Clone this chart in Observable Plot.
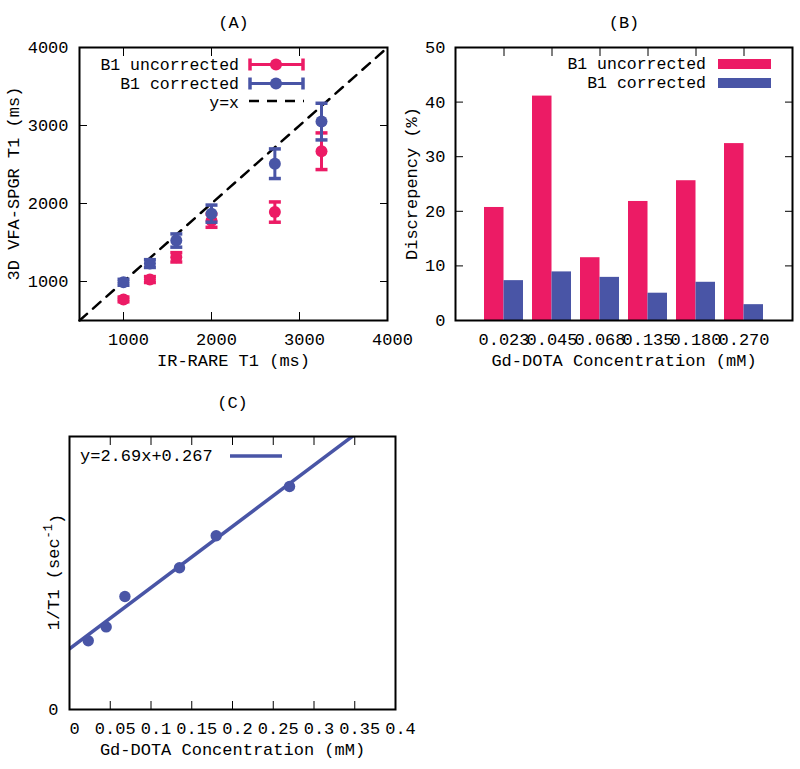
<!DOCTYPE html>
<html><head><meta charset="utf-8">
<script src="https://cdn.jsdelivr.net/npm/d3@7"></script>
<script src="https://cdn.jsdelivr.net/npm/@observablehq/plot@0.6"></script>
<style>
body{margin:0;background:#fff;}
#wrap{position:relative;width:800px;height:769px;overflow:hidden;background:#fff;}
#wrap svg{position:absolute;}
</style></head><body><div id="wrap"></div>
<script>
// ---------- data ----------
// Panel A
const irRareT1 = [1000, 1300, 1600, 2000, 2720, 3250];
const uncorrectedT1 = [770, 1025, 1310, 1780, 1890, 2670];
const uncorrectedErr = [30, 38, 60, 85, 130, 235];
const correctedT1 = [990, 1230, 1525, 1870, 2510, 3050];
const correctedErr = [38, 50, 85, 110, 190, 235];
const axisRangeA = [500, 4000];
const ticksA = [1000, 2000, 3000, 4000];
// Panel B
const concLabels = ["0.023", "0.045", "0.068", "0.135", "0.180", "0.270"];
const discUncorrected = [20.7, 41.1, 11.5, 21.8, 25.6, 32.4];
const discCorrected = [7.3, 8.9, 7.9, 5.0, 7.0, 2.9];
const ticksB = [0, 10, 20, 30, 40, 50];
// Panel C
const concentration = [0.023, 0.045, 0.068, 0.135, 0.180, 0.270];
const invT1 = [0.302, 0.363, 0.497, 0.623, 0.764, 0.980];
const fitSlope = 2.69, fitIntercept = 0.267;
const ticksC = [0, 0.05, 0.1, 0.15, 0.2, 0.25, 0.3, 0.35, 0.4];
const innerTicksC = [0.05, 0.1, 0.15, 0.2, 0.25, 0.3, 0.35];

const PINK = "#EC1B65", BLUE = "#4955A6";
const FONT = "'Liberation Mono', 'Courier New', monospace";
const STYLE = {fontFamily: FONT, fontSize: "17px", background: "none", overflow: "visible", color: "black"};
const LEGEND_FS = 16.5;
const wrap = document.getElementById("wrap");

const cap = {draw(ctx, size) { const r = Math.sqrt(size / Math.PI); ctx.moveTo(-r, 0); ctx.lineTo(r, 0); }};

function errMarks(rows, color) {
  return [
    Plot.ruleX(rows, {x: "x", y1: "lo", y2: "hi", stroke: color, strokeWidth: 3}),
    Plot.dot(rows, {x: "x", y: "lo", symbol: cap, r: 6, stroke: color, strokeWidth: 3.5, fill: "none"}),
    Plot.dot(rows, {x: "x", y: "hi", symbol: cap, r: 6, stroke: color, strokeWidth: 3.5, fill: "none"}),
    Plot.dot(rows, {x: "x", y: "y", r: 6, fill: color})
  ];
}

function rotatedLabel(svg, text, cx, cy) {
  d3.select(svg).append("text")
    .attr("font-family", FONT).attr("font-size", 17)
    .attr("text-anchor", "middle").attr("dy", "0.32em")
    .attr("transform", `translate(${cx},${cy}) rotate(-90)`)
    .text(text);
}

// ---------- Panel A ----------
const rowsUnc = irRareT1.map((x, i) => ({x, y: uncorrectedT1[i], lo: uncorrectedT1[i] - uncorrectedErr[i], hi: uncorrectedT1[i] + uncorrectedErr[i]}));
const rowsCor = irRareT1.map((x, i) => ({x, y: correctedT1[i], lo: correctedT1[i] - correctedErr[i], hi: correctedT1[i] + correctedErr[i]}));
const diag = axisRangeA.map(v => ({v}));

const svgA = Plot.plot({
  width: 400, height: 380, marginLeft: 79, marginRight: 13, marginTop: 47, marginBottom: 60,
  style: STYLE,
  x: {domain: axisRangeA, label: null, axis: null},
  y: {domain: axisRangeA, label: null, axis: null},
  marks: [
    Plot.line(diag, {x: "v", y: "v", stroke: "black", strokeWidth: 2.5, strokeDasharray: "10,8"}),
    ...errMarks(rowsUnc, PINK),
    ...errMarks(rowsCor, BLUE),
    Plot.axisX({anchor: "bottom", ticks: ticksA, tickSize: -8, fill: "none", label: null}),
    Plot.axisX({anchor: "top", ticks: ticksA, tickSize: -8, fill: "none", label: null}),
    Plot.axisY({anchor: "left", ticks: ticksA, tickSize: -8, fill: "none", label: null}),
    Plot.axisY({anchor: "right", ticks: ticksA, tickSize: -8, fill: "none", label: null}),
    Plot.axisX({anchor: "bottom", ticks: ticksA, tickSize: 0, tickPadding: 12, dx: 5, tickFormat: d => String(d), label: null}),
    Plot.axisY({anchor: "left", ticks: ticksA, tickSize: 0, tickPadding: 11, tickFormat: d => String(d), label: null}),
    Plot.frame({stroke: "black", strokeWidth: 2}),
    Plot.text(["(A)"], {frameAnchor: "top", dy: -32, text: d => d}),
    Plot.text(["IR-RARE T1 (ms)"], {frameAnchor: "bottom", dy: 45, text: d => d})
  ]
});
svgA.style.left = "0px"; svgA.style.top = "0px"; svgA.style.zIndex = 2;
rotatedLabel(svgA, "3D VFA-SPGR T1 (ms)", 14, 183.5);

(function legendA() {
  const g = d3.select(svgA).append("g").attr("font-family", FONT).attr("font-size", LEGEND_FS);
  const items = [{label: "B1 uncorrected", color: PINK, y: 64.5}, {label: "B1 corrected", color: BLUE, y: 83.5}];
  for (const it of items) {
    g.append("text").attr("x", 239).attr("y", it.y).attr("dy", "0.32em").attr("text-anchor", "end").text(it.label);
    g.append("line").attr("x1", 250).attr("x2", 303).attr("y1", it.y).attr("y2", it.y).attr("stroke", it.color).attr("stroke-width", 3);
    for (const cx of [250, 303]) g.append("line").attr("x1", cx).attr("x2", cx).attr("y1", it.y - 6).attr("y2", it.y + 6).attr("stroke", it.color).attr("stroke-width", 3.5);
    g.append("circle").attr("cx", 276).attr("cy", it.y).attr("r", 6).attr("fill", it.color);
  }
  g.append("text").attr("x", 239).attr("y", 102.5).attr("dy", "0.32em").attr("text-anchor", "end").text("y=x");
  g.append("line").attr("x1", 249).attr("x2", 304).attr("y1", 101).attr("y2", 101).attr("stroke", "black").attr("stroke-width", 2.5).attr("stroke-dasharray", "10,8");
})();
wrap.appendChild(svgA);

// ---------- Panel B ----------
const rowsB = concLabels.map((c, i) => ({c, unc: discUncorrected[i], cor: discCorrected[i]}));
const pIn = 0.19, pOut = 0.595, wB = 400, mlB = 55, mrB = 8;
const halfBand = (wB - mlB - mrB) / (concLabels.length - pIn + 2 * pOut) * (1 - pIn) / 2;

const svgB = Plot.plot({
  width: wB, height: 380, marginLeft: mlB, marginRight: mrB, marginTop: 47, marginBottom: 60,
  style: STYLE,
  x: {type: "band", domain: concLabels, paddingInner: pIn, paddingOuter: pOut, label: null, axis: null},
  y: {domain: [0, 50], label: null, axis: null},
  marks: [
    Plot.barY(rowsB, {x: "c", y: "unc", fill: PINK, insetRight: halfBand}),
    Plot.barY(rowsB, {x: "c", y: "cor", fill: BLUE, insetLeft: halfBand}),
    Plot.axisX({anchor: "top", tickSize: -8, fill: "none", label: null}),
    Plot.axisX({anchor: "bottom", tickSize: 0, tickPadding: 12, label: null}),
    Plot.axisY({anchor: "left", ticks: ticksB, tickSize: -8, fill: "none", label: null}),
    Plot.axisY({anchor: "right", ticks: ticksB, tickSize: -8, fill: "none", label: null}),
    Plot.axisY({anchor: "left", ticks: ticksB, tickSize: 0, tickPadding: 10, tickFormat: d => String(d), label: null}),
    Plot.frame({stroke: "black", strokeWidth: 2}),
    Plot.text(["(B)"], {frameAnchor: "top", dy: -32, text: d => d}),
    Plot.text(["Gd-DOTA Concentration (mM)"], {frameAnchor: "bottom", dy: 45, text: d => d})
  ]
});
svgB.style.left = "400px"; svgB.style.top = "0px"; svgB.style.zIndex = 1;
rotatedLabel(svgB, "Discrepency (%)", 12, 183.5);

(function legendB() {
  const g = d3.select(svgB).append("g").attr("font-family", FONT).attr("font-size", LEGEND_FS);
  const items = [{label: "B1 uncorrected", color: PINK, y: 64}, {label: "B1 corrected", color: BLUE, y: 83}];
  for (const it of items) {
    g.append("text").attr("x", 306).attr("y", it.y).attr("dy", "0.32em").attr("text-anchor", "end").text(it.label);
    g.append("rect").attr("x", 318).attr("y", it.y - 5).attr("width", 53).attr("height", 10).attr("fill", it.color);
  }
})();
wrap.appendChild(svgB);

// ---------- Panel C ----------
const rowsC = concentration.map((x, i) => ({x, y: invT1[i]}));
const fitLine = [ticksC[0], ticksC[ticksC.length - 1]].map(x => ({x, y: fitSlope * x + fitIntercept}));

const svgC = Plot.plot({
  width: 440, height: 389, marginLeft: 69, marginRight: 45, marginTop: 56, marginBottom: 60,
  style: STYLE,
  x: {domain: [0, 0.4], label: null, axis: null},
  y: {domain: [0, 1.2], label: null, axis: null},
  marks: [
    Plot.line(fitLine, {x: "x", y: "y", stroke: BLUE, strokeWidth: 3.5, clip: true}),
    Plot.dot(rowsC, {x: "x", y: "y", r: 5.7, fill: BLUE}),
    Plot.axisX({anchor: "bottom", ticks: innerTicksC, tickSize: -8, fill: "none", label: null}),
    Plot.axisX({anchor: "top", ticks: innerTicksC, tickSize: -8, fill: "none", label: null}),
    Plot.axisX({anchor: "bottom", ticks: ticksC, tickSize: 0, tickPadding: 12, dx: 5, tickFormat: d => String(d), label: null}),
    Plot.axisY({anchor: "left", ticks: [0], tickSize: 0, tickPadding: 11, tickFormat: d => String(d), label: null}),
    Plot.frame({stroke: "black", strokeWidth: 2}),
    Plot.text(["(C)"], {frameAnchor: "top", dy: -41, text: d => d}),
    Plot.text(["Gd-DOTA Concentration (mM)"], {frameAnchor: "bottom", dy: 45, text: d => d})
  ]
});
svgC.style.left = "0px"; svgC.style.top = "380px"; svgC.style.zIndex = 1;

(function extrasC() {
  const g = d3.select(svgC).append("g").attr("font-family", FONT).attr("font-size", 17);
  g.append("text").attr("x", 80).attr("y", 76).attr("dy", "0.32em").attr("text-anchor", "start").text("y=" + fitSlope + "x+" + fitIntercept);
  g.append("line").attr("x1", 230).attr("x2", 282).attr("y1", 76).attr("y2", 76).attr("stroke", BLUE).attr("stroke-width", 3.5);
  const t = g.append("text").attr("text-anchor", "middle").attr("transform", "translate(59,192) rotate(-90)");
  t.append("tspan").text("1/T1 (sec");
  t.append("tspan").attr("dy", "-0.55em").attr("font-size", 12).text("-1");
  t.append("tspan").attr("dy", "0.55em").text(")");
})();
wrap.appendChild(svgC);
</script></body></html>
